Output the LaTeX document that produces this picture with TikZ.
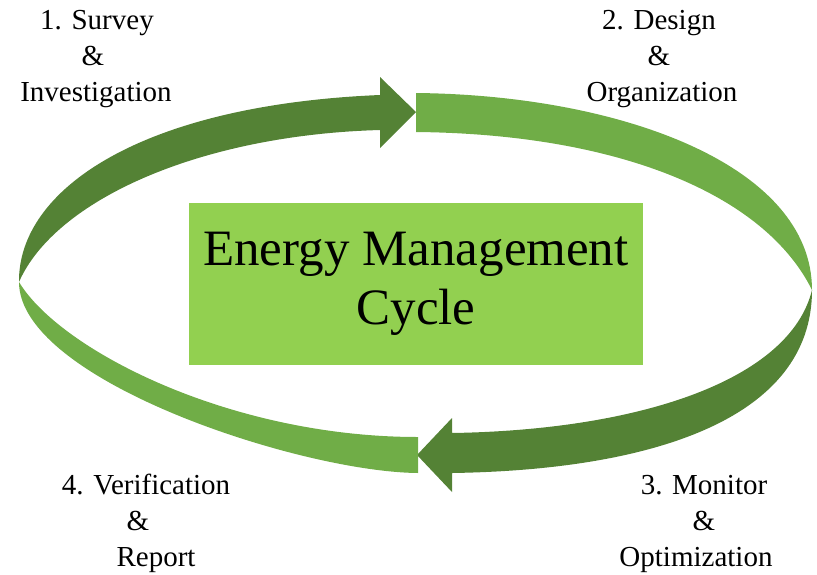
\documentclass[tikz,border=0pt]{standalone}
\usepackage{fontspec}
\setmainfont{Liberation Serif}
\definecolor{darkg}{HTML}{548235}
\definecolor{lightg}{HTML}{70AD47}
\definecolor{boxg}{HTML}{92D050}
\begin{document}
\begin{tikzpicture}[x=1pt,y=-1pt,
  darkband/.style={fill=darkg},
  lightband/.style={fill=lightg},
  lbl/.style={anchor=base, inner sep=0pt, font=\fontsize{29}{36}\selectfont},
  box/.style={fill=boxg, minimum width=454pt, minimum height=162pt, align=center, inner sep=0pt, font=\fontsize{51}{59}\selectfont}]
\useasboundingbox (0,0) rectangle (817,574);
\coordinate (Lt) at (19,282);
\coordinate (Rt) at (812,290);
% top-left dark arrow
\fill[darkband] (Lt) .. controls (18,190) and (140,105) .. (380,95)
  -- (380,77) -- (416,112) -- (380,148) -- (380,130)
  .. controls (200,135) and (55,200) .. (Lt) -- cycle;
% top-right light band
\fill[lightband] (416,93) .. controls (620,95) and (812,165) .. (Rt)
  .. controls (765,195) and (620,134) .. (416,132) -- cycle;
% bottom-right dark arrow
\fill[darkband] (Rt) .. controls (812,420) and (650,470) .. (452,473)
  -- (452,492) -- (417,455) -- (452,418) -- (452,433)
  .. controls (640,430) and (790,380) .. (Rt) -- cycle;
% bottom-left light band
\fill[lightband] (418,473) .. controls (300,472) and (19,380) .. (Lt)
  .. controls (60,350) and (230,437) .. (418,437) -- cycle;
% centre box
\node[box] (box) at (416,284) {Energy Management\\Cycle};
% labels
\node[lbl] (s1a) at (97,29) {1. Survey};
\node[lbl] (s1b) at (93,65) {\&};
\node[lbl] (s1c) at (96,101) {Investigation};
\node[lbl] (s2a) at (659,29) {2. Design};
\node[lbl] (s2b) at (659,65) {\&};
\node[lbl] (s2c) at (662,101) {Organization};
\node[lbl] (s3a) at (704,494) {3. Monitor};
\node[lbl] (s3b) at (704,530) {\&};
\node[lbl] (s3c) at (696,566) {Optimization};
\node[lbl] (s4a) at (146,494) {4. Verification};
\node[lbl] (s4b) at (138,530) {\&};
\node[lbl] (s4c) at (156,566) {Report};
\end{tikzpicture}
\end{document}
